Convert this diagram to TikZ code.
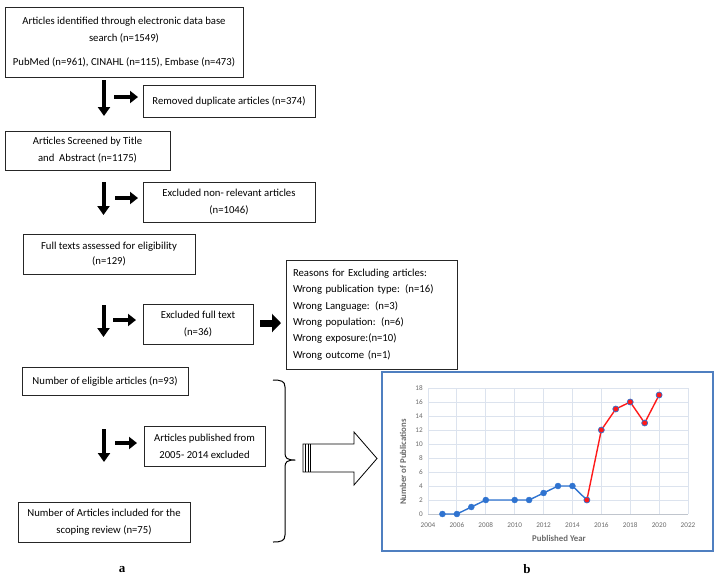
\documentclass[tikz,border=0pt]{standalone}
\usepackage{fontspec}
\setmainfont{Carlito}
\newfontfamily\serifab{Liberation Serif}
\usetikzlibrary{arrows.meta}
\definecolor{framecol}{HTML}{4F7FC0}
\definecolor{gridcol}{HTML}{DCE3EE}
\definecolor{tickcol}{HTML}{6A6A6A}
\definecolor{bluecol}{HTML}{2F73D0}
\definecolor{redcol}{HTML}{FF1A1A}
\tikzset{
  box/.style={draw=black!85, line width=0.8pt, align=center, inner sep=0pt,
    font=\fontsize{10.7}{17}\selectfont},
  downarr/.style={line width=4pt, -{Triangle[length=9pt,width=12pt]}},
  rightarr/.style={line width=4.5pt, -{Triangle[length=8pt,width=12pt]}},
  bigright/.style={line width=7pt, -{Triangle[length=9pt,width=18pt]}},
  tick/.style={font=\fontsize{7.2}{8}\selectfont, text=tickcol, inner sep=0pt},
  axtitle/.style={font=\fontsize{8.8}{9}\selectfont\bfseries, text=tickcol, inner sep=0pt},
  bluedot/.style={circle, fill=bluecol, draw=bluecol, inner sep=0pt, minimum size=6pt},
  reddot/.style={circle, fill=redcol, draw=bluecol, line width=0.7pt, inner sep=0pt, minimum size=6pt},
  sublabel/.style={font=\serifab\fontsize{13}{14}\selectfont\bfseries, inner sep=0pt}
}
\begin{document}
\begin{tikzpicture}[x=1pt,y=-1pt]
\useasboundingbox (0,0) rectangle (720,582);

% flow boxes
\node[box, minimum width=238pt, minimum height=70pt] (b1) at (124,42)
  {Articles identified through electronic data base\\ search (n=1549)\\[7pt] PubMed (n=961), CINAHL (n=115), Embase (n=473)};
\node[box, minimum width=172pt, minimum height=32pt] (b2) at (229,101) {Removed duplicate articles (n=374)};
\node[box, minimum width=165pt, minimum height=39pt] (b3) at (87.5,150.5) {Articles Screened by Title\\ and\ \ Abstract (n=1175)};
\node[box, minimum width=172pt, minimum height=40pt] (b4) at (229,202) {Excluded non- relevant articles\\ (n=1046)};
\node[box, minimum width=172pt, minimum height=40pt, font=\fontsize{10.7}{15}\selectfont] (b5) at (109,254) {Full texts assessed for eligibility\\ (n=129)};
\node[box, align=left, text width=157pt, inner xsep=7pt, minimum height=109pt, font=\fontsize{10.7}{16.4}\selectfont] (b6) at (371.5,314.5)
  {Reasons for Excluding articles:\\ Wrong publication type: (n=16)\\ Wrong Language: (n=3)\\ Wrong population: (n=6)\\ Wrong exposure:(n=10)\\ Wrong outcome (n=1)};
\node[box, minimum width=110pt, minimum height=40pt] (b7) at (198,324) {Excluded full text\\ (n=36)};
\node[box, minimum width=166pt, minimum height=28pt] (b8) at (105,381) {Number of eligible articles (n=93)};
\node[box, minimum width=121pt, minimum height=40pt] (b9) at (204.5,446) {Articles published from\\ 2005- 2014 excluded};
\node[box, minimum width=172pt, minimum height=40pt] (b10) at (104,522) {Number of Articles included for the\\ scoping review (n=75)};

% block arrows
\coordinate (d1s) at (104,80);  \coordinate (d1e) at (104,116);
\coordinate (r1s) at (114,97);  \coordinate (r1e) at (138,97);
\coordinate (d2s) at (103.5,182); \coordinate (d2e) at (103.5,215);
\coordinate (r2s) at (115,198); \coordinate (r2e) at (138,198);
\coordinate (d3s) at (103.5,305); \coordinate (d3e) at (103.5,337);
\coordinate (r3s) at (113,320); \coordinate (r3e) at (136,320);
\coordinate (r4s) at (260,323); \coordinate (r4e) at (281,323);
\coordinate (d4s) at (104,429); \coordinate (d4e) at (104,462);
\coordinate (r5s) at (115,443); \coordinate (r5e) at (137,443);
\draw[downarr] (d1s) -- (d1e);
\draw[rightarr] (r1s) -- (r1e);
\draw[downarr] (d2s) -- (d2e);
\draw[rightarr] (r2s) -- (r2e);
\draw[downarr] (d3s) -- (d3e);
\draw[rightarr] (r3s) -- (r3e);
\draw[bigright] (r4s) -- (r4e);
\draw[downarr] (d4s) -- (d4e);
\draw[rightarr] (r5s) -- (r5e);

% brace
\coordinate (brt) at (273,380); \coordinate (brb) at (273,542); \coordinate (brtip) at (295,460);
\draw[line width=1pt, line join=round] (brt) .. controls (281,380) and (285,381) .. (285,387) -- (285,453)
  .. controls (285,458) and (287,460) .. (brtip)
  .. controls (287,460) and (285,462) .. (285,467) -- (285,535)
  .. controls (285,541) and (281,542) .. (brb);

% hollow striped arrow
\draw[line width=0.8pt, fill=white] (303,444) -- (354,444) -- (354,432) -- (377,458.5) -- (354,485) -- (354,472) -- (303,472) -- cycle;
\foreach \xx in {305.5,308,310.5} \draw[line width=0.7pt] (\xx,444) -- (\xx,472);

% chart frame
\draw[framecol, line width=1.2pt] (382,372) rectangle (713,551);
\node[axtitle, rotate=90] (ytitle) at (403,462) {Number of Publications};
\node[axtitle] (xtitle) at (559,538) {Published Year};

\begin{scope}[shift={(428,514)}, x=14.444pt, y=7pt]
  \foreach \v in {2,4,...,18} \draw[gridcol, line width=0.8pt] (0,\v) -- (18,\v);
  \foreach \k in {0,2,...,18} \draw[gridcol, line width=0.8pt] (\k,0) -- (\k,18);
  \draw[gridcol!70!gray, line width=0.8pt] (0,0) -- (18,0);
  \foreach \v in {0,2,...,18} \node[tick, anchor=east] at (-0.35,\v) {\v};
  \foreach \k in {0,2,...,18} {
    \pgfmathtruncatemacro{\yr}{2004+\k}
    \node[tick] at (\k,-1.57) {\yr};
  }
  \draw[bluecol, line width=1.4pt, line join=round]
    (1,0) -- (2,0) -- (3,1) -- (4,2) -- (6,2) -- (7,2) -- (8,3) -- (9,4) -- (10,4) -- (11,2);
  \draw[redcol, line width=1.4pt, line join=round]
    (11,2) -- (12,12) -- (13,15) -- (14,16) -- (15,13) -- (16,17);
  \foreach \px/\py in {1/0,2/0,3/1,4/2,6/2,7/2,8/3,9/4,10/4}
    \node[bluedot] at (\px,\py) {};
  \foreach \px/\py in {11/2,12/12,13/15,14/16,15/13,16/17}
    \node[reddot] at (\px,\py) {};
\end{scope}

\node[sublabel] (la) at (122,570) {a};
\node[sublabel] (lb) at (527,569) {b};
\end{tikzpicture}
\end{document}
